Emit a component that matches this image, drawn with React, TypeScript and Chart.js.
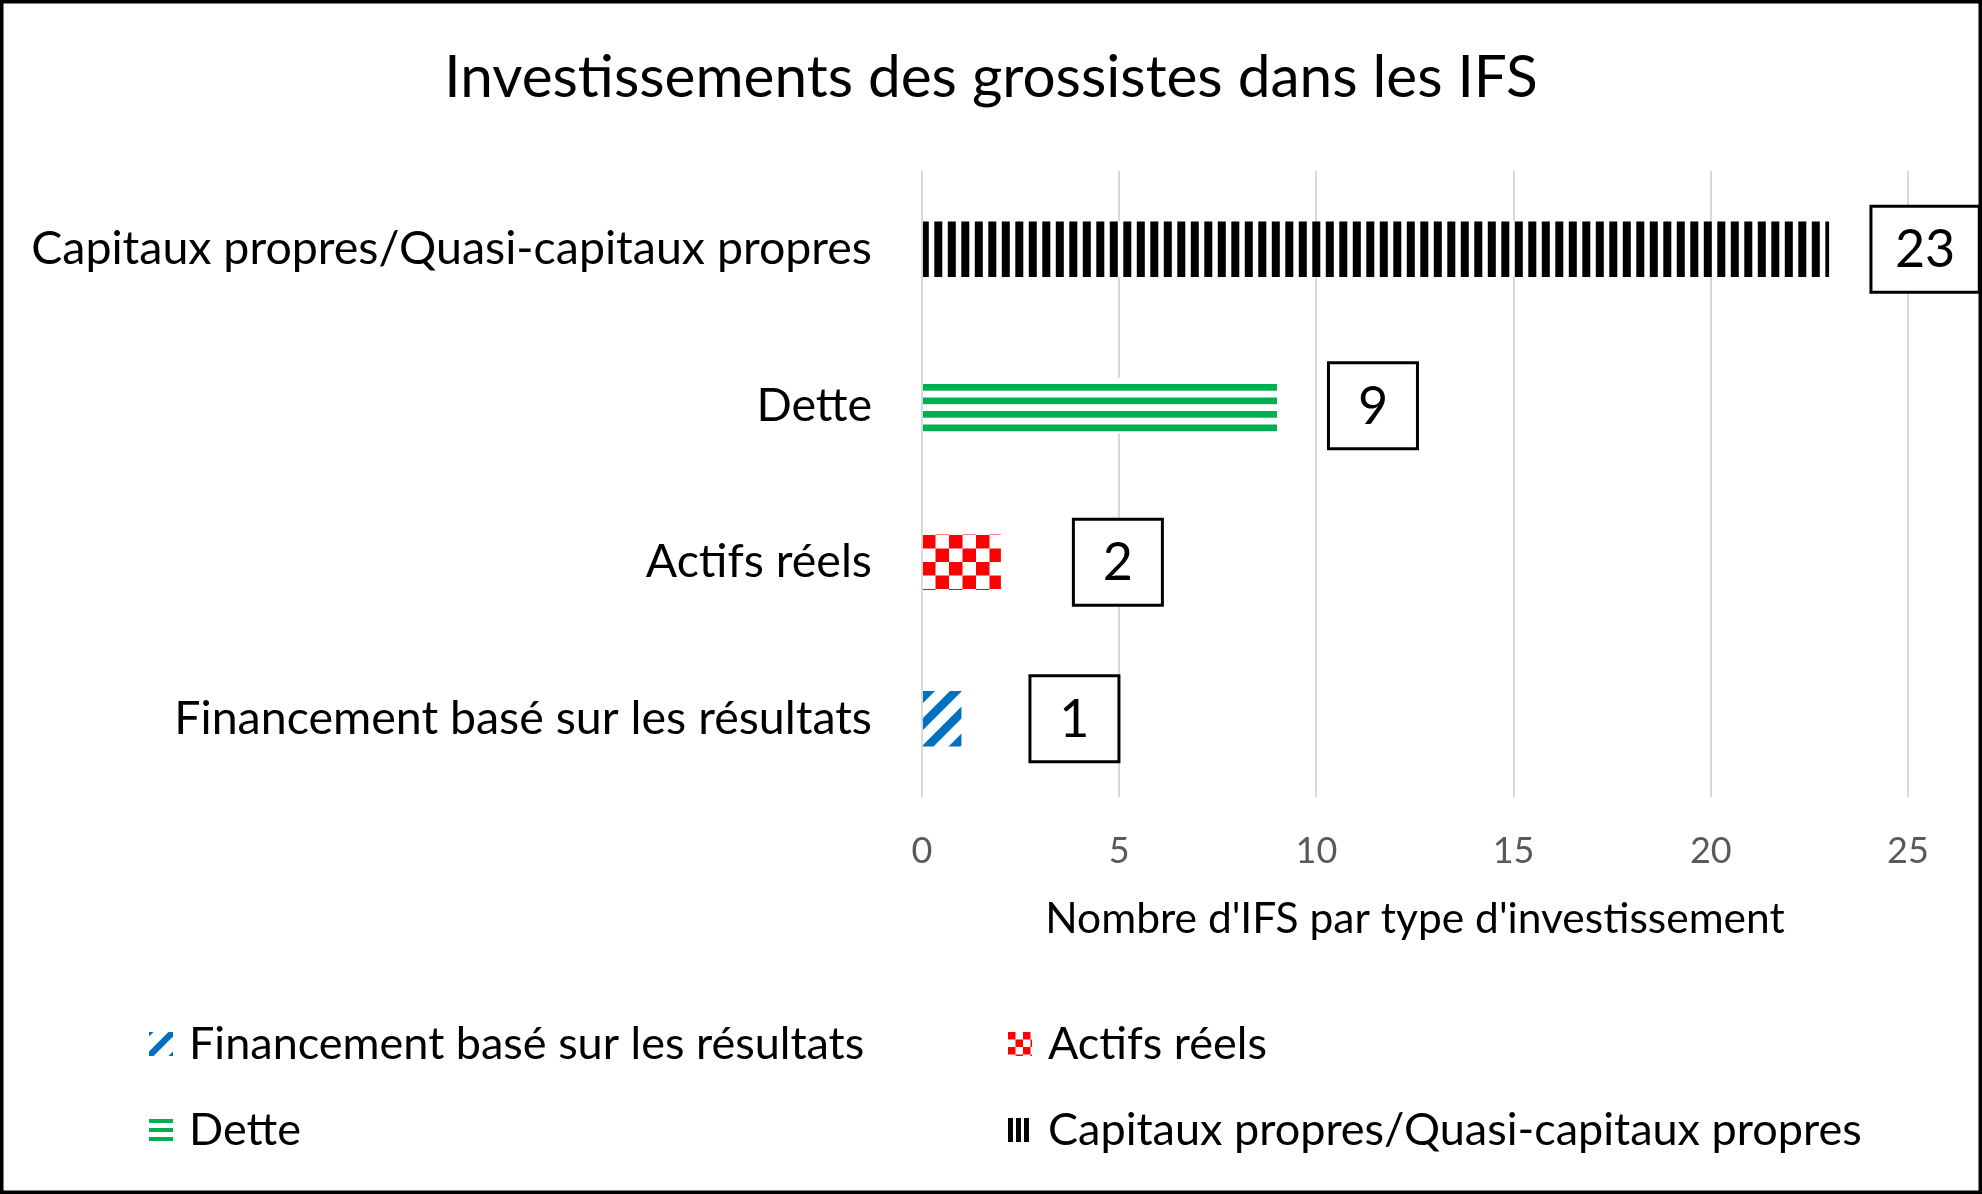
import { useEffect, useRef } from "react";
import Chart from "chart.js/auto";

// --- data ---
const categories = [
  "Capitaux propres/Quasi-capitaux propres",
  "Dette",
  "Actifs réels",
  "Financement basé sur les résultats",
];
const ifsCounts = [23, 9, 2, 1];
// legend reads row by row: Financement, Actifs réels / Dette, Capitaux
const legendOrder = [3, 2, 1, 0];
const xMin = 0;
const xMax = 25;
const xStep = 5;

const chartTitle = "Investissements des grossistes dans les IFS";
const xAxisTitle = "Nombre d'IFS par type d'investissement";

// --- styles ---
const FONT = "Lato, 'Open Sans', sans-serif";
const patternKinds = ["vstripes", "hstripes", "checker", "diag"];
const patternColors = ["#000000", "#00B050", "#FF0000", "#0070C0"];
const legendTileSizes = [8, 9, 15, 24];
const labelShift = [96, 96, 117, 113]; // px from bar end to label box centre

function makeTile(kind: string, color: string, size: number, legend: boolean) {
  const c = document.createElement("canvas");
  c.width = size;
  c.height = size;
  const g = c.getContext("2d")!;
  g.fillStyle = "#ffffff";
  g.fillRect(0, 0, size, size);
  g.fillStyle = color;
  g.strokeStyle = color;
  const wrap = (fn: () => void) => {
    for (const dx of [-size, 0, size]) {
      for (const dy of [-size, 0, size]) {
        g.save();
        g.translate(dx, dy);
        fn();
        g.restore();
      }
    }
  };
  const half = size / 2;
  if (kind === "vstripes") {
    if (legend) {
      g.fillRect(0, 0, size * 0.62, size);
    } else {
      wrap(() => {
        g.fillRect(2.8, 0, 8, size);
        g.fillRect(2.8 + half, 0, 8, size);
      });
    }
  } else if (kind === "hstripes") {
    if (legend) {
      g.fillRect(0, 1, size, 4);
    } else {
      wrap(() => {
        g.fillRect(0, 6, size, 6.7);
        g.fillRect(0, 6 + half, size, 6.7);
      });
    }
  } else if (kind === "checker") {
    const ox = legend ? 0 : 4;
    const oy = legend ? 0 : 22;
    wrap(() => {
      g.fillRect(ox, oy, half, half);
      g.fillRect(ox + half, oy + half, half, half);
    });
  } else if (kind === "diag") {
    g.lineWidth = legend ? 6.5 : 8.5;
    for (const k of [-1, 0, 1]) {
      g.beginPath();
      g.moveTo(k * size - 4, size + 4);
      g.lineTo(k * size + size + 4, -4);
      g.stroke();
    }
  }
  return c;
}

export default function App() {
  const chartRef = useRef<HTMLCanvasElement>(null);
  const chartInstance = useRef<Chart | null>(null);

  useEffect(() => {
    if (!chartRef.current) return;
    if (chartInstance.current) chartInstance.current.destroy();
    const ctx = chartRef.current.getContext("2d");
    if (!ctx) return;

    const barPatterns = patternKinds.map((k, i) =>
      ctx.createPattern(makeTile(k, patternColors[i], 27, false), "repeat")
    );
    const legendPatterns = patternKinds.map((k, i) =>
      ctx.createPattern(makeTile(k, patternColors[i], legendTileSizes[i], true), "repeat")
    );

    // white background, centred title and the outer frame
    const framePlugin = {
      id: "frame",
      beforeDraw(chart: any) {
        const c = chart.ctx;
        c.save();
        c.fillStyle = "#ffffff";
        c.fillRect(0, 0, chart.width, chart.height);
        c.fillStyle = "#000000";
        c.font = `58.5px ${FONT}`;
        c.textAlign = "center";
        c.textBaseline = "middle";
        c.fillText(chartTitle, chart.width / 2, 78);
        c.restore();
      },
      afterDraw(chart: any) {
        const c = chart.ctx;
        c.save();
        c.strokeStyle = "#000000";
        c.lineWidth = 3.5;
        c.strokeRect(1.75, 1.75, chart.width - 3.5, chart.height - 3.5);
        c.restore();
      },
    };

    const valueLabelPlugin = {
      id: "valueLabels",
      afterDatasetsDraw(chart: any) {
        const c = chart.ctx;
        const meta = chart.getDatasetMeta(0);
        c.save();
        c.font = `52px ${FONT}`;
        meta.data.forEach((bar: any, i: number) => {
          const { x, y } = bar.getProps(["x", "y"], true);
          const text = String(ifsCounts[i]);
          const tw = c.measureText(text).width;
          const w = Math.max(tw + 48, 89);
          const h = 86;
          const cx = x + labelShift[i];
          c.fillStyle = "#ffffff";
          c.fillRect(cx - w / 2, y - h / 2, w, h);
          c.lineWidth = 3;
          c.strokeStyle = "#000000";
          c.strokeRect(cx - w / 2, y - h / 2, w, h);
          c.fillStyle = "#000000";
          c.textAlign = "center";
          c.textBaseline = "middle";
          c.fillText(text, cx, y + 1);
        });
        c.restore();
      },
    };

    const legendPlugin = {
      id: "gridLegend",
      afterDraw(chart: any) {
        const c = chart.ctx;
        const cols = [149, 1008];
        const rows = [1044, 1130];
        const key = 24;
        c.save();
        c.font = `45px ${FONT}`;
        c.textBaseline = "middle";
        c.textAlign = "left";
        legendOrder.forEach((idx, n) => {
          const x = cols[n % 2];
          const y = rows[Math.floor(n / 2)];
          c.save();
          c.translate(x, y - key / 2);
          c.fillStyle = legendPatterns[idx];
          c.fillRect(0, 0, key, key);
          c.restore();
          c.fillStyle = "#000000";
          c.fillText(categories[idx], x + 40, y);
        });
        c.restore();
      },
    };

    chartInstance.current = new Chart(ctx, {
      type: "bar",
      data: {
        labels: categories,
        datasets: [
          {
            label: xAxisTitle,
            data: ifsCounts,
            backgroundColor: barPatterns as any,
            borderWidth: 0,
            barPercentage: 0.355,
            categoryPercentage: 1,
          },
        ],
      },
      options: {
        indexAxis: "y",
        animation: false,
        responsive: true,
        maintainAspectRatio: false,
        layout: { padding: { top: 171, left: 0, right: 74, bottom: 227 } },
        plugins: {
          legend: { display: false },
          tooltip: { enabled: false },
          title: { display: false },
        },
        scales: {
          x: {
            min: xMin,
            max: xMax,
            ticks: {
              stepSize: xStep,
              color: "#595959",
              font: { family: FONT, size: 36 },
              padding: 33,
            },
            grid: { color: "#d9d9d9", lineWidth: 2, drawTicks: false },
            border: { display: false },
            title: {
              display: true,
              text: xAxisTitle,
              color: "#000000",
              font: { family: FONT, size: 42.5 },
              padding: { top: 0, bottom: 22.5 },
            },
            afterFit: (s: any) => {
              s.height = 170;
            },
          },
          y: {
            grid: { display: false },
            border: { display: false },
            ticks: {
              color: "#000000",
              font: { family: FONT, size: 46.5 },
              padding: 42,
            },
            afterFit: (s: any) => {
              s.width = 922;
            },
          },
        },
      },
      plugins: [framePlugin, valueLabelPlugin, legendPlugin],
    });

    return () => {
      if (chartInstance.current) {
        chartInstance.current.destroy();
        chartInstance.current = null;
      }
    };
  }, []);

  return (
    <div
      style={{
        position: "fixed",
        left: 0,
        top: 0,
        width: 1982,
        height: 1194,
        background: "#ffffff",
      }}
    >
      <canvas ref={chartRef}></canvas>
    </div>
  );
}
